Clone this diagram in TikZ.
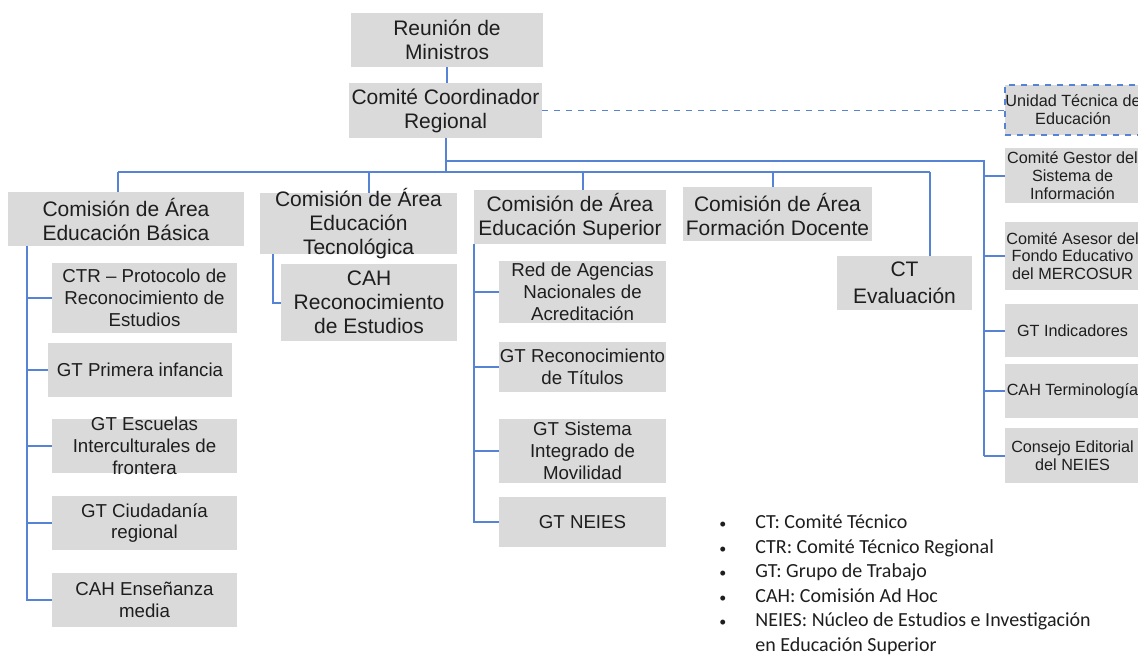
\documentclass[tikz,border=0pt]{standalone}
\usepackage{fontspec}
\setmainfont{Liberation Sans}
\newfontfamily\legendfont{Carlito}
\usetikzlibrary{positioning}
\definecolor{boxgray}{RGB}{218,218,218}
\definecolor{linkblue}{RGB}{86,131,212}
\definecolor{txtdark}{RGB}{30,30,30}
\newcommand{\fbig}{\fontsize{10.5}{12}\selectfont}
\newcommand{\fsub}{\fontsize{9.35}{10.9}\selectfont}
\newcommand{\fsmall}{\fontsize{8.1}{8.9}\selectfont}
\newcommand{\lbul}{{\fontsize{7}{7}\selectfont\textbullet}}

\tikzset{
  orgbox/.style={fill=boxgray, text=txtdark, align=center, inner sep=-8pt},
  bigbox/.style={orgbox, font=\fbig},
  subbox/.style={orgbox, font=\fsub},
  smallbox/.style={orgbox, font=\fsmall},
  link/.style={draw=linkblue, line width=1pt},
  dlink/.style={draw=linkblue, line width=0.6pt, dashed}
}

\begin{document}
\begin{tikzpicture}[x=0.5pt, y=-0.5pt]
    \useasboundingbox (0,0) rectangle (1138,655);

    % top levels
    \node[bigbox, minimum width=96pt, minimum height=27pt] (rm) at (447,40) {Reunión de\\Ministros};
    \node[bigbox, minimum width=96.5pt, minimum height=27.5pt] (ccr) at (445.5,110.5) {Comité Coordinador\\Regional};
    \node[smallbox, draw=linkblue, dashed, line width=0.6pt, minimum width=68pt, minimum height=25pt] (ute) at (1073,110) {Unidad Técnica de\\Educación};

    % comisiones de area
    \node[bigbox, minimum width=118pt, minimum height=27pt] (cab) at (126,219) {Comisión de Área\\Educación Básica};
    \node[bigbox, minimum width=98.5pt, minimum height=30.5pt] (cat) at (358.5,223.5) {Comisión de Área\\Educación\\Tecnológica};
    \node[bigbox, minimum width=96pt, minimum height=27pt] (cas) at (570,217) {Comisión de Área\\Educación Superior};
    \node[bigbox, minimum width=94.5pt, minimum height=27pt] (caf) at (777.5,214) {Comisión de Área\\Formación Docente};
    \node[bigbox, font=\fontsize{10.5}{13.5}\selectfont, minimum width=67.5pt, minimum height=27pt] (cte) at (904.5,283) {CT\\Evaluación};

    % educacion basica
    \node[subbox, minimum width=92.5pt, minimum height=35pt] (ctr) at (144.5,298) {CTR \textendash{} Protocolo de\\Reconocimiento de\\Estudios};
    \node[subbox, minimum width=92pt, minimum height=27pt] (gtpi) at (140,370) {GT Primera infancia};
    \node[subbox, minimum width=92.5pt, minimum height=27pt] (gtei) at (144.5,446) {GT Escuelas\\Interculturales de\\frontera};
    \node[subbox, minimum width=92.5pt, minimum height=27pt] (gtcr) at (144.5,523) {GT Ciudadanía\\regional};
    \node[subbox, minimum width=92.5pt, minimum height=27pt] (cahem) at (144.5,600) {CAH Enseñanza\\media};

    % educacion tecnologica
    \node[bigbox, minimum width=88pt, minimum height=38.5pt] (cahre) at (369,302.5) {CAH\\Reconocimiento\\de Estudios};

    % educacion superior
    \node[subbox, minimum width=83.5pt, minimum height=31pt] (rana) at (582.5,292) {Red de Agencias\\Nacionales de\\Acreditación};
    \node[subbox, minimum width=83.5pt, minimum height=25pt] (gtrt) at (582.5,367) {GT Reconocimiento\\de Títulos};
    \node[subbox, minimum width=83.5pt, minimum height=32pt] (gtsim) at (582.5,451) {GT Sistema\\Integrado de\\Movilidad};
    \node[subbox, minimum width=83.5pt, minimum height=25pt] (gtneies) at (582.5,522) {GT NEIES};

    % columna derecha
    \node[smallbox, minimum width=67.5pt, minimum height=27.5pt] (cgsi) at (1072.5,175.5) {Comité Gestor del\\Sistema de\\Información};
    \node[smallbox, minimum width=67.5pt, minimum height=34pt] (cafe) at (1072.5,256) {Comité Asesor del\\Fondo Educativo\\del MERCOSUR};
    \node[smallbox, minimum width=67.5pt, minimum height=26.5pt] (gtind) at (1072.5,330.5) {GT Indicadores};
    \node[smallbox, minimum width=67.5pt, minimum height=27pt] (cahter) at (1072.5,391) {CAH Terminología};
    \node[smallbox, minimum width=67.5pt, minimum height=27.5pt] (cened) at (1072.5,455.5) {Consejo Editorial\\del NEIES};

    % connectors
    \coordinate (dB) at (118,172);
    \coordinate (dT) at (369,172);
    \coordinate (dS) at (583,172);
    \coordinate (dF) at (773,172);
    \coordinate (dE) at (930,172);
    \coordinate (sR) at (984,161);
    \coordinate (sB) at (27,246);
    \coordinate (sT) at (273,254);
    \coordinate (sS) at (474,244);

    \draw[link] (rm.south) -- (rm.south |- ccr.north);
    \draw[link] (ccr.south) -- (ccr.south |- dB);
    \draw[link] (dB) -- (dE);
    \foreach \d/\n in {dB/cab,dT/cat,dS/cas,dF/caf,dE/cte}
        \draw[link] (\d) -- (\d |- \n.north);

    \draw[link] (ccr.south |- sR) -- (sR) -- (sR |- cened.west);
    \foreach \n in {cgsi,cafe,gtind,cahter,cened}
        \draw[link] (sR |- \n.west) -- (\n.west);

    \draw[dlink] (ccr.east) -- (ccr.east -| ute.west);

    \draw[link] (sB) |- (cahem.west);
    \foreach \n in {ctr,gtpi,gtei,gtcr}
        \draw[link] (sB |- \n.west) -- (\n.west);

    \draw[link] (sT) |- (cahre.west);

    \draw[link] (sS) |- (gtneies.west);
    \foreach \n in {rana,gtrt,gtsim}
        \draw[link] (sS |- \n.west) -- (\n.west);

    % legend
    \node[anchor=north west, inner sep=0pt, text=txtdark, font=\legendfont\fontsize{10}{12.25}\selectfont] (leg) at (719,511)
        {\begin{tabular}{@{}p{18pt}@{}l@{}}
        \lbul & CT: Comité Técnico\\
        \lbul & CTR: Comité Técnico Regional\\
        \lbul & GT: Grupo de Trabajo\\
        \lbul & CAH: Comisión Ad Hoc\\
        \lbul & NEIES: Núcleo de Estudios e Investigación\\
              & en Educación Superior
        \end{tabular}};
\end{tikzpicture}
\end{document}
